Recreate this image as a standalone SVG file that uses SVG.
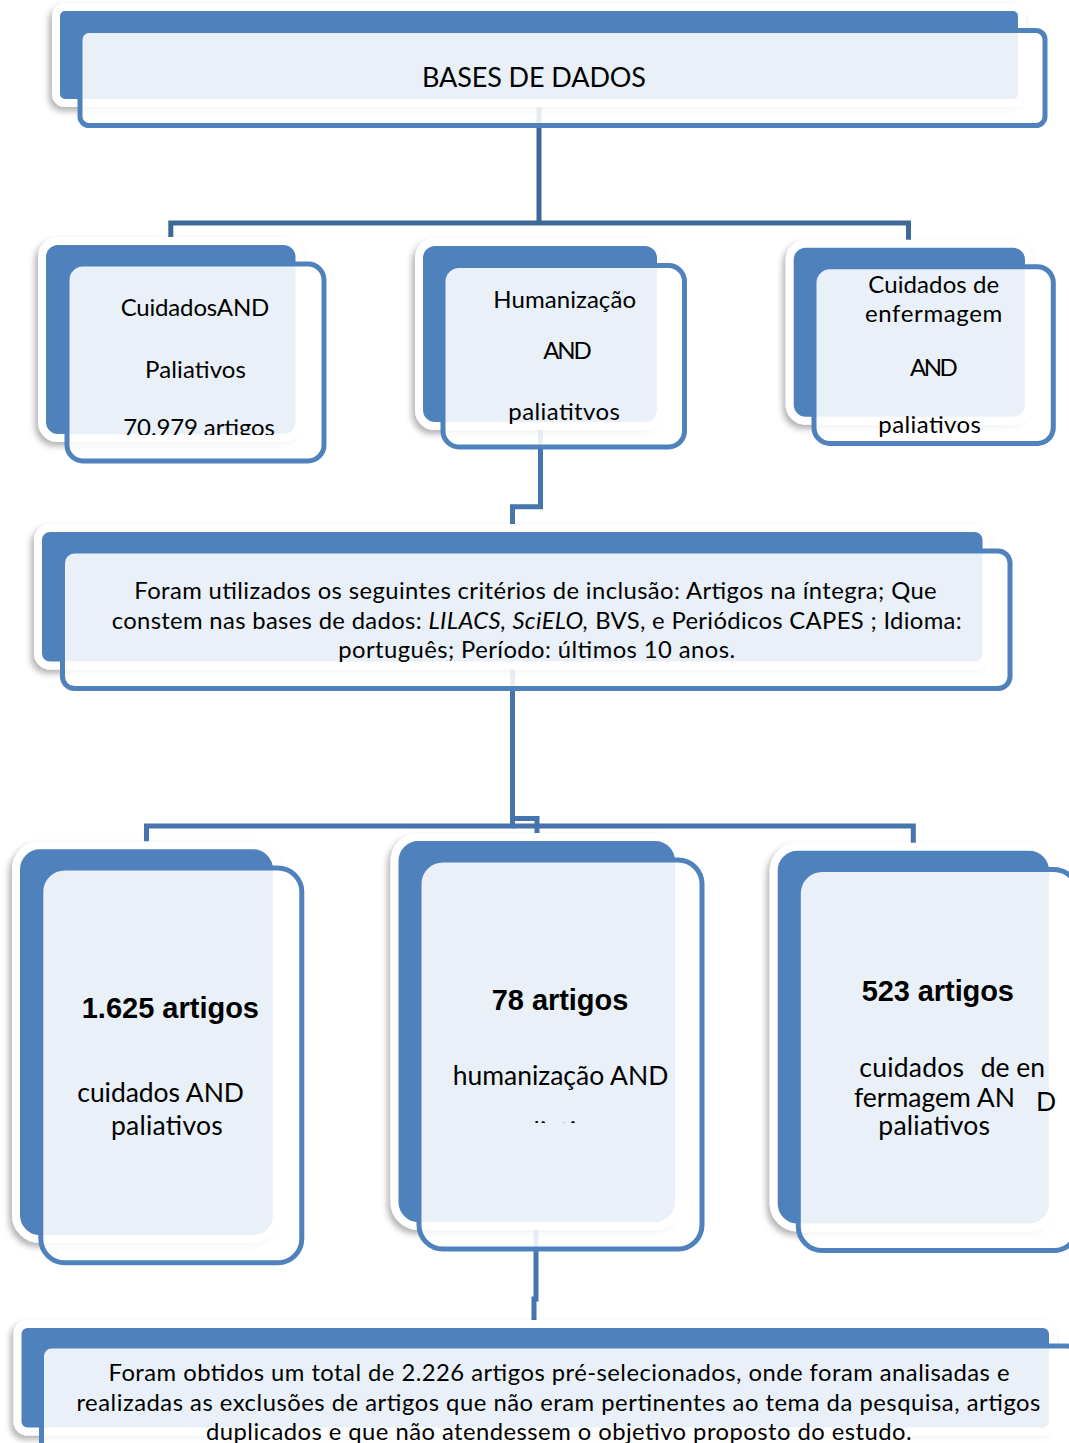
<svg xmlns="http://www.w3.org/2000/svg" width="1069" height="1443" viewBox="0 0 1069 1443">
<defs>
<style>
.back{fill:#4F81BD;stroke:#FFFFFF;stroke-width:8;filter:url(#sh)}
.front{fill:#FFFFFF;fill-opacity:0.88;stroke:#4F81BD;stroke-width:5}
.t{font-family:Lato,"Open Sans","Liberation Sans",sans-serif;fill:#000000}
.s24{font-size:24px}
.s22{font-size:23.8px}
.s26{font-size:26.5px}
.s29{font-size:27px}
.b{font-family:"Liberation Sans",Arial,sans-serif;font-weight:bold;font-size:29px;fill:#000000}
.c1{fill:none;stroke:#3E6898;stroke-width:5;stroke-linejoin:miter}
.c2{fill:none;stroke:#4674AC;stroke-width:5;stroke-linejoin:miter}
</style>
<filter id="sh" x="-10%" y="-10%" width="120%" height="125%">
<feDropShadow dx="-3" dy="4" stdDeviation="3" flood-color="#000000" flood-opacity="0.3"/>
</filter>
<clipPath id="clipA"><rect x="0" y="0" width="1069" height="435"/></clipPath>
<clipPath id="clipF"><rect x="0" y="0" width="1069" height="1123"/></clipPath>
</defs>
<rect x="0" y="0" width="1069" height="1443" fill="#FFFFFF"/>

<g id="connectors">
<path class="c1" d="M539,100 V223"/>
<path class="c1" d="M170.8,242 V223 H908.5 V244"/>
<path class="c2" d="M540.5,400 V506.7 H512.5 V530"/>
<path class="c2" d="M512.5,620 V826 H146.5 V846"/>
<path class="c2" d="M512.5,818.5 H537 V840"/>
<path class="c2" d="M512.5,826 H913.3 V850"/>
<path class="c2" d="M536,1200 V1299 H534 V1326"/>
</g>

<g id="node-bases">
<rect class="back" x="56" y="7" width="966" height="96" rx="9"/>
<rect class="front" x="80" y="30.5" width="965" height="95" rx="9"/>
<text class="t s29" x="422" y="87" textLength="224">BASES DE DADOS</text>
</g>

<g id="node-cuidados">
<rect class="back" x="42" y="241" width="257.5" height="197" rx="16"/>
<rect class="front" x="67" y="264" width="257" height="197" rx="16"/>
<text class="t s24" x="120.7" y="316" textLength="148.6">CuidadosAND</text>
<text class="t s24" x="145" y="378" textLength="101">Paliativos</text>
<text class="t s24" x="123.3" y="436" textLength="151.7" clip-path="url(#clipA)">70.979 artigos</text>
</g>

<g id="node-humanizacao">
<rect class="back" x="419" y="242" width="242" height="184" rx="16"/>
<rect class="front" x="443" y="265.5" width="241.5" height="181.5" rx="16"/>
<text class="t s24" x="493.3" y="308" textLength="142.7">Humanização</text>
<text class="t s24" x="543.3" y="359.3" textLength="48.4">AND</text>
<text class="t s24" x="508.3" y="420" textLength="111.7">paliatitvos</text>
</g>

<g id="node-enfermagem">
<rect class="back" x="789.7" y="243.7" width="239.3" height="177" rx="16"/>
<rect class="front" x="814" y="266.7" width="239.3" height="176.7" rx="16"/>
<text class="t s24" x="868.3" y="293.3" textLength="131">Cuidados de</text>
<text class="t s24" x="865" y="321.7" textLength="137.3">enfermagem</text>
<text class="t s24" x="910" y="376" textLength="47.7">AND</text>
<text class="t s24" x="878.3" y="433.3" textLength="102.7">paliativos</text>
</g>

<g id="node-criterios">
<rect class="back" x="38" y="528" width="948.5" height="137.5" rx="12"/>
<rect class="front" x="62.5" y="551" width="947.5" height="137.5" rx="12"/>
<text class="t s22" x="134.3" y="599.3" textLength="802.4">Foram utilizados os seguintes critérios de inclusão: Artigos na íntegra; Que</text>
<text class="t s22" x="111.7" y="629" textLength="850">constem nas bases de dados: <tspan font-style="italic">LILACS, SciELO,</tspan> BVS, e Periódicos CAPES ; Idioma:</text>
<text class="t s22" x="338.3" y="657.7" textLength="396.7">português; Período: últimos 10 anos.</text>
</g>

<g id="node-1625">
<rect class="back" x="16" y="845.3" width="261" height="393.7" rx="24"/>
<rect class="front" x="40.8" y="868" width="261" height="394.8" rx="24"/>
<text class="b" x="81.7" y="1018.3" textLength="177.3">1.625 artigos</text>
<text class="t s26" x="77.3" y="1101.7" textLength="166.7">cuidados AND</text>
<text class="t s26" x="111" y="1135" textLength="111.7">paliativos</text>
</g>

<g id="node-78">
<rect class="back" x="394.5" y="837" width="284.5" height="389" rx="24"/>
<rect class="front" x="419" y="860" width="283" height="389" rx="24"/>
<text class="b" x="491.7" y="1010" textLength="136.6">78 artigos</text>
<text class="t s26" x="452.7" y="1085" textLength="215.6">humanização AND</text>
<text class="t s26" x="505" y="1141" textLength="111.7" clip-path="url(#clipF)">paliativos</text>
</g>

<g id="node-523">
<rect class="back" x="773.7" y="846.7" width="279.3" height="380.8" rx="24"/>
<rect class="front" x="798.3" y="869.5" width="279.5" height="381" rx="24"/>
<text class="b" x="861.7" y="1000.7" textLength="152.3">523 artigos</text>
<text class="t s26" y="1076.7"><tspan x="859.3" textLength="104.7">cuidados</tspan><tspan x="980.7" textLength="64.3">de en</tspan></text>
<text class="t s26" x="854" y="1106.7" textLength="161">fermagem AN</text>
<text class="t s26" x="1036" y="1111">D</text>
<text class="t s26" x="878.3" y="1135" textLength="111.7">paliativos</text>
</g>

<g id="node-total">
<rect class="back" x="17.5" y="1324" width="1035.5" height="107.5" rx="10"/>
<rect class="front" x="41.5" y="1346" width="1035.5" height="107.5" rx="10"/>
<text class="t s22" x="108.5" y="1381" textLength="901">Foram obtidos um total de 2.226 artigos pré-selecionados, onde foram analisadas e</text>
<text class="t s22" x="76.4" y="1410.5" textLength="964">realizadas as exclusões de artigos que não eram pertinentes ao tema da pesquisa, artigos</text>
<text class="t s22" x="206" y="1440" textLength="705.6">duplicados e que não atendessem o objetivo proposto do estudo.</text>
</g>
</svg>
